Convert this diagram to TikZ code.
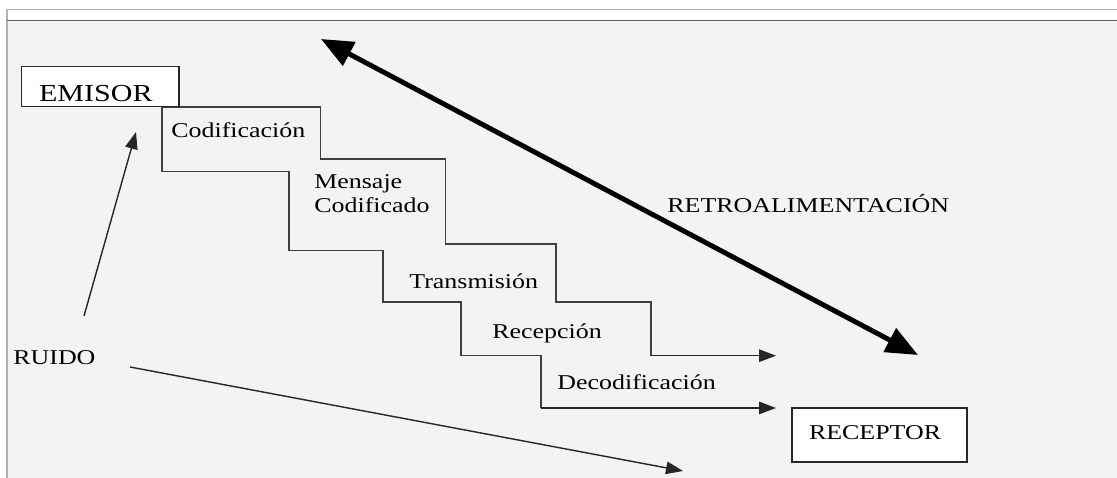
\documentclass[tikz,border=0pt]{standalone}
\usepackage{fontspec}
\setmainfont{Liberation Serif}[FakeStretch=1.23]
\usepackage{tikz}
\usetikzlibrary{arrows.meta}

\definecolor{panel}{HTML}{F3F3F3}
\definecolor{stairline}{HTML}{404040}

\tikzset{
  lbl/.style={inner sep=0pt, anchor=base west, align=left, font=\fontsize{12}{14.2}\selectfont},
  box/.style={rectangle, draw=black!85, fill=white, line width=0.8pt, align=left, font=\fontsize{12}{14.2}\selectfont},
  stair/.style={stairline, line width=0.8pt},
  thinarrow/.style={black!85, line width=0.8pt, -{Triangle[length=0.34cm,width=0.25cm]}},
  fbarrow/.style={black, line width=2.8pt, {Triangle[length=0.64cm,width=0.52cm]}-{Triangle[length=0.64cm,width=0.52cm]}}
}

\begin{document}
\begin{tikzpicture}

\useasboundingbox (0,0) rectangle (22.34,9.56);

% frame
\fill[white] (0,0) rectangle (22.34,9.56);
\fill[panel] (0.14,0) rectangle (22.34,9.15);
\draw[gray!60, line width=0.6pt] (0.14,0) -- (0.14,9.37) -- (22.34,9.37);
\draw[black!65, line width=0.7pt] (0.14,9.15) -- (22.34,9.15);

% upper steps
\draw[stair] (3.24,7.42) -- (6.414,7.42) -- (6.414,6.38) -- (8.914,6.38) -- (8.914,4.68)
    -- (11.12,4.68) -- (11.12,3.52) -- (13.02,3.52) -- (13.02,2.446);
% lower steps
\draw[stair] (3.24,7.42) -- (3.24,6.126) -- (5.78,6.126) -- (5.78,4.546) -- (7.66,4.546)
    -- (7.66,3.52) -- (9.22,3.52) -- (9.22,2.446) -- (10.82,2.446) -- (10.82,1.4);

    \node[box, text width=2.45cm, inner xsep=0.35cm, minimum height=0.8cm, inner ysep=0.1cm,
          text height=0.58cm, text depth=0cm, font=\fontsize{13.9}{16}\selectfont] (emisor) at (2.007,7.827) {EMISOR};
    \node[box, text width=2.82cm, inner xsep=0.34cm, minimum height=1.08cm,
          text height=0.28cm, text depth=0.08cm] (receptor) at (17.59,0.86) {RECEPTOR};

    \node[lbl] (codif) at (3.42,6.8) {Codificación};
    \node[lbl] (mensaje) at (6.28,5.3) {Mensaje\\Codificado};
    \node[lbl] (transm) at (8.18,3.78) {Transmisión};
    \node[lbl] (recep) at (9.84,2.78) {Recepción};
    \node[lbl] (decod) at (11.14,1.76) {Decodificación};
    \node[lbl] (retro) at (13.34,5.3) {RETROALIMENTACIÓN};
    \node[lbl] (ruido) at (0.26,2.26) {RUIDO};

% arrow ends
\coordinate (upend) at (13.02,2.446);
\coordinate (uptip) at (15.52,2.446);
\coordinate (lowend) at (10.82,1.4);
\coordinate (lowtip) at (15.52,1.4);
\coordinate (fbtop) at (6.42,8.78);
\coordinate (fbbot) at (18.36,2.46);
\coordinate (noise1) at (1.68,3.24);
\coordinate (noise1tip) at (2.72,6.92);
\coordinate (noise2) at (2.6,2.22);
\coordinate (noise2tip) at (13.66,0.14);

\draw[thinarrow] (upend) -- (uptip);
\draw[thinarrow] (lowend) -- (lowtip);
\draw[thinarrow] (noise1) -- (noise1tip);
\draw[thinarrow] (noise2) -- (noise2tip);
\draw[fbarrow] (fbtop) -- (fbbot); %feedback

\end{tikzpicture}
\end{document}
